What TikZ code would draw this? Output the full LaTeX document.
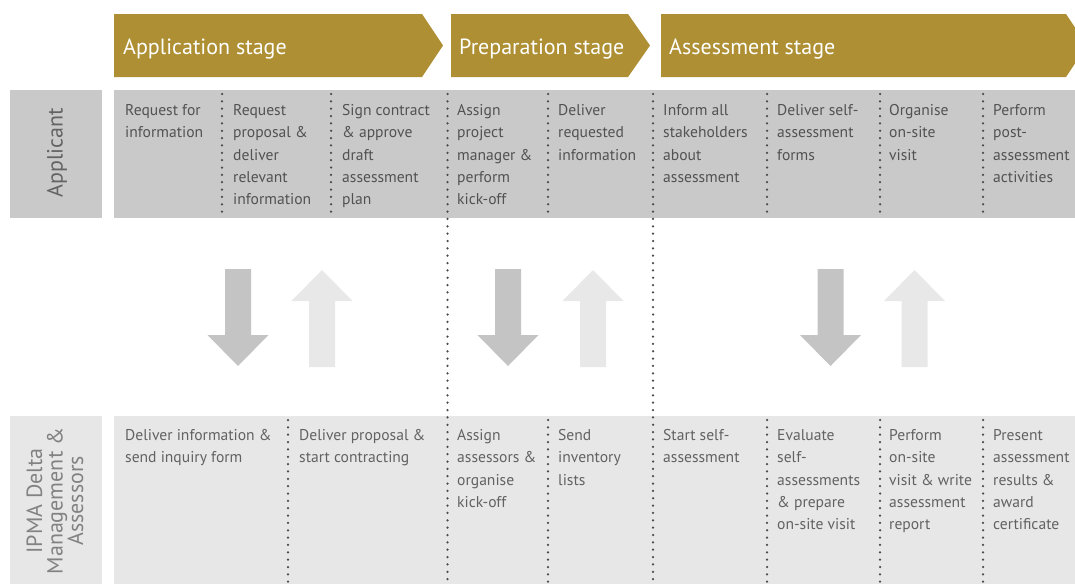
\documentclass[tikz,border=0pt]{standalone}
\usepackage{fontspec}
\setmainfont{PT Sans}
\begin{document}
\begin{tikzpicture}[x=1pt,y=-1pt,
  stagefill/.style={fill=gold,draw=none},
  stagetext/.style={anchor=base west,inner sep=0pt,text=white,font=\fontsize{22}{24}\selectfont},
  rowA/.style={fill=rowdark,draw=none},
  rowB/.style={fill=rowlight,draw=none},
  celltext/.style={anchor=north west,inner sep=0pt,align=left,font=\fontsize{15.6}{22.2}\selectfont},
  cellA/.style={celltext,text=textA},
  cellB/.style={celltext,text=textB},
  sidelabel/.style={rotate=90,inner sep=0pt,align=center,font=\fontsize{22}{20.5}\selectfont},
  dotline/.style={draw=dotc,line width=2.5pt,line cap=round,dash pattern=on 0pt off 7.35pt},
  downarr/.pic={\fill[arrdark] (-13,0) -- (13,0) -- (13,66) -- (30.5,66) -- (0,97) -- (-30.5,66) -- (-13,66) -- cycle;},
  uparr/.pic={\fill[arrlight] (0,0) -- (30.5,31) -- (13,31) -- (13,97) -- (-13,97) -- (-13,31) -- (-30.5,31) -- cycle;}
]
\definecolor{gold}{HTML}{AE8F33}
\definecolor{rowdark}{HTML}{C9C9C9}
\definecolor{rowlight}{HTML}{E7E7E7}
\definecolor{textA}{HTML}{525252}
\definecolor{textB}{HTML}{626262}
\definecolor{labelB}{HTML}{828282}
\definecolor{dotc}{HTML}{4A4A4A}
\definecolor{arrdark}{HTML}{C4C4C4}
\definecolor{arrlight}{HTML}{E8E8E8}
\useasboundingbox[fill=white] (0,0) rectangle (1075,584);
\clip (0,0) rectangle (1075,584);

% stage arrows
\path[stagefill] (114,14) -- (422,14) -- (443,45.5) -- (422,77) -- (114,77) -- cycle;
\path[stagefill] (451,14) -- (628,14) -- (650,45.5) -- (628,77) -- (451,77) -- cycle;
\path[stagefill] (661,14) -- (1066,14) -- (1087,45.5) -- (1066,77) -- (661,77) -- cycle;
\node[stagetext] (s1) at (123,54) {Application stage};
\node[stagetext] (s2) at (459,54) {Preparation stage};
\node[stagetext] (s3) at (669,54) {Assessment stage};

% rows
\path[rowA] (10,90) rectangle (102,218);
\path[rowA] (114,90) rectangle (1075,218);
\path[rowB] (10,416) rectangle (102,584);
\path[rowB] (114,416) rectangle (1075,584);

\node[sidelabel,text=textA!90] (lA) at (57,153) {Applicant};
\node[sidelabel,text=labelB] (lB) at (55,501) {IPMA Delta\\Management \&\\Assessors};

% dotted separators
\foreach \x in {222,331,548,767,880,983} \draw[dotline] (\x,94) -- (\x,216);
\foreach \x in {288,548,767,880,983} \draw[dotline] (\x,420) -- (\x,584);
\foreach \x in {447.5,653} \draw[dotline] (\x,94) -- (\x,584);

% middle arrows
\pic at (238,269) {downarr};
\pic at (322,270) {uparr};
\pic at (508,269) {downarr};
\pic at (593,270) {uparr};
\pic at (830.5,269) {downarr};
\pic at (914.5,270) {uparr};

% applicant row texts
\def\tA{100}
\node[cellA] (a1) at (125,\tA) {\strut Request for\\information};
\node[cellA] (a2) at (233,\tA) {\strut Request\\proposal \&\\deliver\\relevant\\information};
\node[cellA] (a3) at (342,\tA) {\strut Sign contract\\\& approve\\draft\\assessment\\plan};
\node[cellA] (a4) at (457,\tA) {\strut Assign\\project\\manager \&\\perform\\kick-off};
\node[cellA] (a5) at (558,\tA) {\strut Deliver\\requested\\information};
\node[cellA] (a6) at (663,\tA) {\strut Inform all\\stakeholders\\about\\assessment};
\node[cellA] (a7) at (777,\tA) {\strut Deliver self-\\assessment\\forms};
\node[cellA] (a8) at (889,\tA) {\strut Organise\\on-site\\visit};
\node[cellA] (a9) at (993,\tA) {\strut Perform\\post-\\assessment\\activities};

% IPMA row texts
\def\tB{425}
\node[cellB] (b1) at (125,\tB) {\strut Deliver information \&\\send inquiry form};
\node[cellB] (b2) at (299,\tB) {\strut Deliver proposal \&\\start contracting};
\node[cellB] (b3) at (457,\tB) {\strut Assign\\assessors \&\\organise\\kick-off};
\node[cellB] (b4) at (558,\tB) {\strut Send\\inventory\\lists};
\node[cellB] (b5) at (663,\tB) {\strut Start self-\\assessment};
\node[cellB] (b6) at (777,\tB) {\strut Evaluate\\self-\\assessments\\\& prepare\\on-site visit};
\node[cellB] (b7) at (889,\tB) {\strut Perform\\on-site\\visit \& write\\assessment\\report};
\node[cellB] (b8) at (993,\tB) {\strut Present\\assessment\\results \&\\award\\certificate};
\end{tikzpicture}
\end{document}
